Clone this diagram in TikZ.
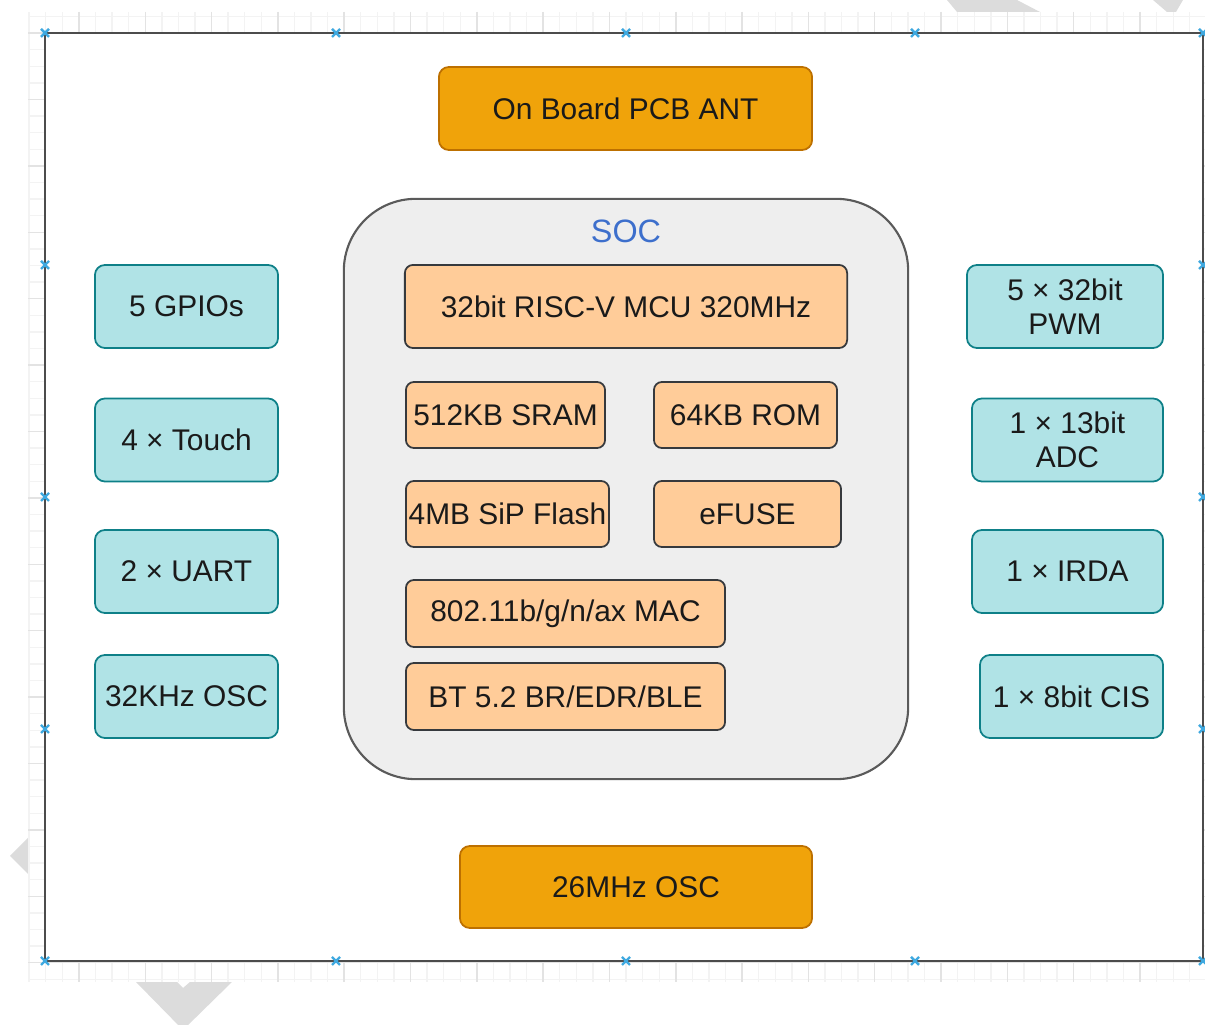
\documentclass[tikz,border=0pt]{standalone}
\usepackage{fontspec}
\setmainfont{Liberation Sans}
\definecolor{antorange}{HTML}{F0A30A}
\definecolor{antborder}{HTML}{BD7000}
\definecolor{corefill}{HTML}{FFCC99}
\definecolor{coreborder}{HTML}{36393D}
\definecolor{perifill}{HTML}{B0E3E6}
\definecolor{periborder}{HTML}{0E8088}
\definecolor{socfill}{HTML}{EEEEEE}
\definecolor{socborder}{HTML}{5A5A5A}
\definecolor{socblue}{HTML}{3D6FCC}
\definecolor{ink}{HTML}{1A1A1A}
\definecolor{gridminor}{HTML}{F3F3F3}
\definecolor{gridmajor}{HTML}{E3E3E3}
\definecolor{hintblue}{HTML}{3FA9E0}
\definecolor{hovergrey}{HTML}{DCDCDC}
\usepackage{tikz}
\usetikzlibrary{positioning}

\begin{document}
\begin{tikzpicture}[x=0.01cm, y=-0.01cm,
  block/.style={rounded corners=0.1cm, draw, line width=0.5pt, align=center,
    font=\fontsize{8.5}{9.7}\selectfont, text=ink, inner sep=0pt},
  ext/.style={block, fill=antorange, draw=antborder},
  core/.style={block, fill=corefill, draw=coreborder, rounded corners=0.08cm,
    minimum height=0.66cm},
  periph/.style={block, fill=perifill, draw=periborder, minimum height=0.83cm},
  hint/.style={draw=hintblue, line width=0.7pt},
]
  \useasboundingbox (0,0) rectangle (1205,1025);

  % grey hover arrows of the editor
  \fill[hovergrey] (947,0) -- (1017,0) -- (1040,12) -- (957,12) -- cycle;
  \fill[hovergrey] (1153,0) -- (1183,0) -- (1176,12) -- (1167,12) -- cycle;
  \fill[hovergrey] (28,838) -- (10,856) -- (28,874) -- cycle;
  \fill[hovergrey] (136,982) -- (177,982) -- (183,988) -- (190,982) -- (232,982)
    -- (183,1030) -- cycle;

  % page grid
  \fill[white] (28,12) rectangle (1205,982);
  \foreach \k in {1,...,71}
    \draw[gridminor, line width=0.4pt] ({12.6+16.58*\k},12) -- ({12.6+16.58*\k},982);
  \foreach \k in {1,...,59}
    \draw[gridminor, line width=0.4pt] (28,{16.6*\k}) -- (1205,{16.6*\k});
  \foreach \k in {4,8,...,68}
    \draw[gridmajor, line width=0.4pt] ({12.6+16.58*\k},12) -- ({12.6+16.58*\k},982);
  \foreach \k in {2,6,...,58}
    \draw[gridmajor, line width=0.4pt] (28,{16.6*\k}) -- (1205,{16.6*\k});

  % board outline
  \draw[fill=white, draw=black!70, line width=0.8pt] (45,33) rectangle (1203,961);
  \foreach \px/\py in {45/33, 336/33, 626/33, 915/33, 1203/33,
      45/265, 45/497, 45/729, 1203/265, 1203/497, 1203/729,
      45/961, 336/961, 626/961, 915/961, 1203/961}
    \draw[hint] ({\px-4},{\py-4}) -- ({\px+4},{\py+4})
      ({\px-4},{\py+4}) -- ({\px+4},{\py-4});

  \node[ext, minimum width=3.73cm, minimum height=0.83cm] (ant) at (625.5,108.5)
    {On Board PCB ANT};
  \node[ext, minimum width=3.52cm, minimum height=0.82cm] (osc) at (636,887)
    {26MHz OSC};

  % SOC
  \node[draw=socborder, fill=socfill, line width=0.6pt, rounded corners=0.72cm,
    minimum width=5.64cm, minimum height=5.8cm] (soc) at (626,489) {};
  \node[font=\fontsize{9.2}{11}\selectfont, text=socblue] (soclbl) at (626,231) {SOC};
  \node[core, minimum width=4.42cm, minimum height=0.83cm] (mcu) at (626,306.5)
    {32bit RISC-V MCU 320MHz};
  \node[core, minimum width=1.99cm] (sram) at (505.5,415) {512KB SRAM};
  \node[core, minimum width=1.83cm] (rom) at (745.5,415) {64KB ROM};
  \node[core, minimum width=2.03cm] (flash) at (507.5,514) {4MB SiP Flash};
  \node[core, minimum width=1.87cm] (efuse) at (747.5,514) {eFUSE};
  \node[core, minimum width=3.19cm, minimum height=0.67cm] (mac) at (565.5,613.5)
    {802.11b/g/n/ax MAC};
  \node[core, minimum width=3.19cm, minimum height=0.67cm] (bt) at (565.5,696.5)
    {BT 5.2 BR/EDR/BLE};

  % left peripherals
  \node[periph, minimum width=1.83cm] (gpio) at (186.5,306.5) {5 GPIOs};
  \node[periph, minimum width=1.83cm] (touch) at (186.5,440) {4 × Touch};
  \node[periph, minimum width=1.83cm] (uart) at (186.5,571.5) {2 × UART};
  \node[periph, minimum width=1.83cm] (lfosc) at (186.5,696.5) {32KHz OSC};

  % right peripherals
  \node[periph, minimum width=1.96cm] (pwm) at (1065,306.5) {5 × 32bit\\PWM};
  \node[periph, minimum width=1.91cm] (adc) at (1067.5,440) {1 × 13bit\\ADC};
  \node[periph, minimum width=1.91cm] (irda) at (1067.5,571.5) {1 × IRDA};
  \node[periph, minimum width=1.83cm] (cis) at (1071.5,696.5) {1 × 8bit CIS};
\end{tikzpicture}
\end{document}
